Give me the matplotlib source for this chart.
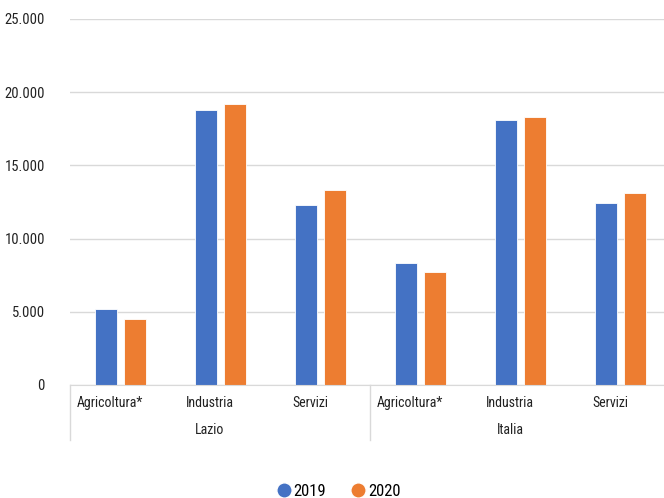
import matplotlib
matplotlib.use("Agg")
import matplotlib.pyplot as plt
from matplotlib.ticker import FuncFormatter, MultipleLocator
from matplotlib.lines import Line2D
from matplotlib import font_manager
import matplotlib.transforms as mtransforms
import numpy as np

groups = ["Lazio", "Italia"]
sectors = ["Agricoltura*", "Industria", "Servizi"]
v2019 = [5170, 18780, 12270, 8310, 18080, 12410]
v2020 = [4490, 19210, 13320, 7740, 18300, 13090]
series = ["2019", "2020"]
colors = ["#4472C4", "#ED7D31"]

names = {f.name for f in font_manager.fontManager.ttflist}
cands = ["Liberation Sans Narrow", "Roboto Condensed", "DejaVu Sans Condensed", "Open Sans Condensed", "DejaVu Sans"]
fam = next(c for c in cands if c in names)
plt.rcParams['font.family'] = [fam, 'DejaVu Sans']
plt.rcParams['font.stretch'] = 'condensed'

W, H = 664, 498
fig = plt.figure(figsize=(W/100, H/100), dpi=100)
ax = fig.add_axes([70/W, 1-385/H, 600/W, (385-19)/H])

n = len(v2019)
x = np.arange(n)
bw = 0.22
off = 0.145
ax.bar(x - off, v2019, bw, color=colors[0], edgecolor="white", linewidth=0.6)
ax.bar(x + off, v2020, bw, color=colors[1], edgecolor="white", linewidth=0.6)

ax.set_xlim(-0.5, n - 0.5)
ax.set_ylim(0, 25000)
ax.yaxis.set_major_locator(MultipleLocator(5000))
ax.yaxis.set_major_formatter(FuncFormatter(lambda v, p: f"{int(v):,}".replace(",", ".")))
ax.grid(axis="y", color="#d9d9d9", linewidth=1)
ax.set_axisbelow(True)
for s in ["top", "right", "left"]:
    ax.spines[s].set_visible(False)
ax.spines["bottom"].set_color("#d9d9d9")
ax.tick_params(axis="y", length=0, labelsize=10.5, pad=18, colors="#222222")
ax.tick_params(axis="x", length=0, labelsize=10, pad=8)
ax.set_xticks(x)
ax.set_xticklabels(sectors * len(groups), color="#222222")
shift = mtransforms.ScaledTranslation(-10/100, 0, fig.dpi_scale_trans)
for lbl in ax.get_xticklabels():
    lbl.set_transform(lbl.get_transform() + shift)

trans = ax.get_xaxis_transform()
for gi, g in enumerate(groups):
    center = gi * 3 + 1
    ax.text(center, -45/366, g, transform=trans + shift, ha="center", va="center", fontsize=10, color="#222222")
for b in [-0.5, 2.5]:
    ax.plot([b, b], [0, -55/366], transform=trans, color="#d9d9d9", linewidth=1, clip_on=False)

handles = [Line2D([0], [0], marker="o", color="w", markerfacecolor=c, markersize=11) for c in colors]
fig.legend(handles, series, loc="center", bbox_to_anchor=(337/W, 1-491/H), ncol=2,
           frameon=False, fontsize=12, handletextpad=0.0, columnspacing=1.3, handlelength=1.2)

fig.savefig("out.png", dpi=100)
